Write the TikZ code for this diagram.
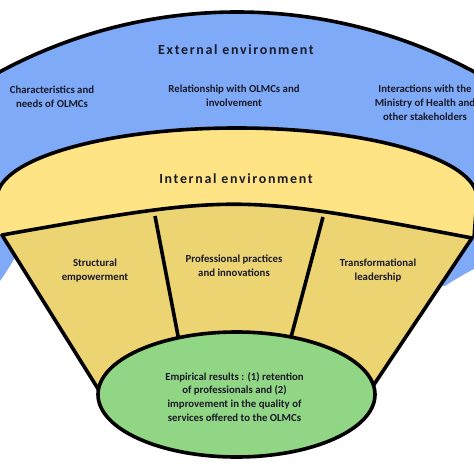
\documentclass[tikz,border=0pt]{standalone}
\usepackage{fontspec}
\setmainfont{Carlito}
\newfontfamily\headfont{Carlito}[LetterSpace=12]
\definecolor{bluebg}{RGB}{127,170,247}
\definecolor{yband}{RGB}{255,228,133}
\definecolor{yfan}{RGB}{237,212,115}
\definecolor{greenell}{RGB}{145,214,132}
\definecolor{txt}{RGB}{25,25,40}
\begin{document}
\begin{tikzpicture}[x=1bp,y=-1bp,line join=round,
  outline/.style={draw=black,line width=3.6bp},
  lbl/.style={font=\fontsize{10.8}{14}\selectfont\bfseries,text=txt,align=center,inner sep=0pt},
  head/.style={font=\fontsize{14}{16}\selectfont\headfont\bfseries,text=txt,inner sep=0pt}]
\useasboundingbox (0,0) rectangle (474,474);
\clip (0,0) rectangle (474,474);
\fill[white] (0,0) rectangle (474,474);
% external environment (blue)
\fill[bluebg] (237,512) ++(238:500) arc[start angle=238,end angle=302,radius=500]
  -- (500,258) .. controls (485,262) and (460,276) .. (445,286) -- (240,262) -- (16,256)
  .. controls (10,266) and (5,274) .. (0,281) -- (-28,300) -- cycle;
\draw[outline] (237,512) ++(238:500) arc[start angle=238,end angle=302,radius=500];
% internal environment band
\fill[yband] (2,235) -- (-3,234) -- (-3,198) .. controls (-3,159.3) and (104.4,128) .. (237,128)
  .. controls (369.6,128) and (477,159.3) .. (477,198) -- (474,238) -- (472,238)
  .. controls (237,193.5) .. (2,235) -- cycle;
\draw[outline] (-3,198) .. controls (-3,159.3) and (104.4,128) .. (237,128)
  .. controls (369.6,128) and (477,159.3) .. (477,198) -- (474,238);
% fan
\path[fill=yfan,outline] (2,235) .. controls (237,193.5) .. (472,238) -- (373,386) -- (100,392) -- cycle;
\coordinate (d1t) at (155,216);
\coordinate (d1b) at (179,341);
\coordinate (d2t) at (323,217);
\coordinate (d2b) at (290,341);
\draw[outline] (d1t) -- (d1b);
\draw[outline] (d2t) -- (d2b);
% results ellipse
\draw[outline,fill=greenell] (236.5,394.5) ellipse [x radius=138.5,y radius=62.5];
% texts
\node[head] (ext) at (236,50) {External environment};
\node[lbl] (c1) at (52,97) {Characteristics and\\needs of OLMCs};
\node[lbl] (c2) at (234,96) {Relationship with OLMCs and\\involvement};
\node[lbl] (c3) at (425,103) {Interactions with the\\Ministry of Health and\\other stakeholders};
\node[head] (int) at (236,179) {Internal environment};
\node[lbl] (f1) at (95,270.5) {Structural\\empowerment};
\node[lbl] (f2) at (234,266) {Professional practices\\and innovations};
\node[lbl] (f3) at (378,271) {Transformational\\leadership};
\node[lbl] (res) at (234.5,397) {Empirical results : (1) retention\\of professionals and (2)\\improvement in the quality of\\services offered to the OLMCs};
\end{tikzpicture}
\end{document}
